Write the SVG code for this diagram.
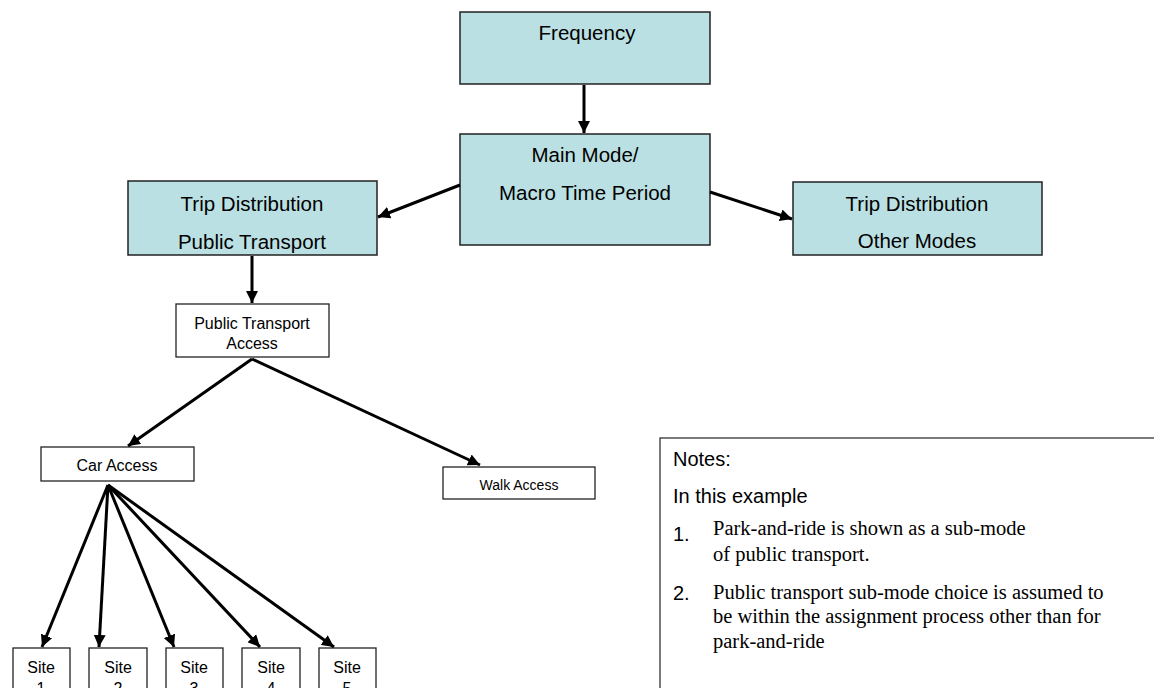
<svg xmlns="http://www.w3.org/2000/svg" width="1154" height="688" viewBox="0 0 1154 688">
<style>
.big{fill:#BBE0E3;stroke:#222;stroke-width:1.5}
.small{fill:#fff;stroke:#222;stroke-width:1.3}
.notes{fill:#fff;stroke:#333;stroke-width:1.3}
text{font-family:"Liberation Sans",Arial,sans-serif;fill:#000;text-anchor:middle}
.t20{font-size:20.5px}
.t16{font-size:16px}
.t14{font-size:14px}
.nt{text-anchor:start;font-size:20px}
.serif{font-family:"Liberation Serif","Times New Roman",serif;text-anchor:start;font-size:20.5px}
.conn line{stroke:#000;stroke-width:3;marker-end:url(#ah)}
</style>
<defs>
<marker id="ah" viewBox="0 0 10 10" refX="10" refY="5" markerWidth="4" markerHeight="4" orient="auto" markerUnits="strokeWidth">
<path d="M0,0 L10,5 L0,10 Z" fill="#000"/>
</marker>
</defs>
<rect width="1154" height="688" fill="#fff"/>
<g id="frequency"><rect class="big" x="460" y="12" width="250" height="72"/><text class="t20" x="587" y="40">Frequency</text></g>
<g id="main-mode"><rect class="big" x="460" y="134" width="250" height="111"/><text class="t20" x="585" y="162">Main Mode/</text><text class="t20" x="585" y="200">Macro Time Period</text></g>
<g id="td-pt"><rect class="big" x="128" y="181" width="249" height="74"/><text class="t20" x="252" y="211">Trip Distribution</text><text class="t20" x="252" y="249">Public Transport</text></g>
<g id="td-other"><rect class="big" x="793" y="182" width="249" height="73"/><text class="t20" x="917" y="211">Trip Distribution</text><text class="t20" x="917" y="248">Other Modes</text></g>
<g id="pt-access"><rect class="small" x="176" y="304" width="153" height="53"/><text class="t16" x="252" y="329">Public Transport</text><text class="t16" x="252" y="349">Access</text></g>
<g id="car-access"><rect class="small" x="41" y="447" width="153" height="34"/><text class="t16" x="117" y="471">Car Access</text></g>
<g id="walk-access"><rect class="small" x="443" y="467" width="152" height="32"/><text class="t14" x="519" y="490">Walk Access</text></g>
<g id="site1"><rect class="small" x="13" y="648" width="57" height="56"/><text class="t16" x="41" y="673">Site</text><text class="t16" x="41" y="694">1</text></g>
<g id="site2"><rect class="small" x="89" y="648" width="58" height="56"/><text class="t16" x="118" y="673">Site</text><text class="t16" x="118" y="694">2</text></g>
<g id="site3"><rect class="small" x="166" y="648" width="57" height="56"/><text class="t16" x="194" y="673">Site</text><text class="t16" x="194" y="694">3</text></g>
<g id="site4"><rect class="small" x="242" y="648" width="58" height="56"/><text class="t16" x="271" y="673">Site</text><text class="t16" x="271" y="694">4</text></g>
<g id="site5"><rect class="small" x="319" y="648" width="57" height="56"/><text class="t16" x="347" y="673">Site</text><text class="t16" x="347" y="694">5</text></g>
<g id="notes"><rect class="notes" x="660" y="438" width="510" height="270"/>
<text class="nt" x="673" y="466">Notes:</text>
<text class="nt" x="673" y="503">In this example</text>
<text class="nt" x="673" y="541">1.</text>
<text class="serif" x="713" y="535">Park-and-ride is shown as a sub-mode</text>
<text class="serif" x="713" y="561">of public transport.</text>
<text class="nt" x="673" y="600">2.</text>
<text class="serif" x="713" y="599">Public transport sub-mode choice is assumed to</text>
<text class="serif" x="713" y="623">be within the assignment process other than for</text>
<text class="serif" x="713" y="648">park-and-ride</text>
</g>
<g id="connectors" class="conn">
<line x1="584" y1="85" x2="584" y2="133"/>
<line x1="460" y1="185" x2="378" y2="217"/>
<line x1="710" y1="192" x2="792" y2="219"/>
<line x1="252" y1="256" x2="252" y2="303"/>
<line x1="252" y1="359" x2="128" y2="446"/>
<line x1="252" y1="359" x2="480" y2="465"/>
<line x1="108" y1="485" x2="42" y2="647"/>
<line x1="108" y1="485" x2="99" y2="647"/>
<line x1="108" y1="485" x2="174" y2="647"/>
<line x1="108" y1="485" x2="260" y2="647"/>
<line x1="108" y1="485" x2="334" y2="647"/>
</g>
</svg>
